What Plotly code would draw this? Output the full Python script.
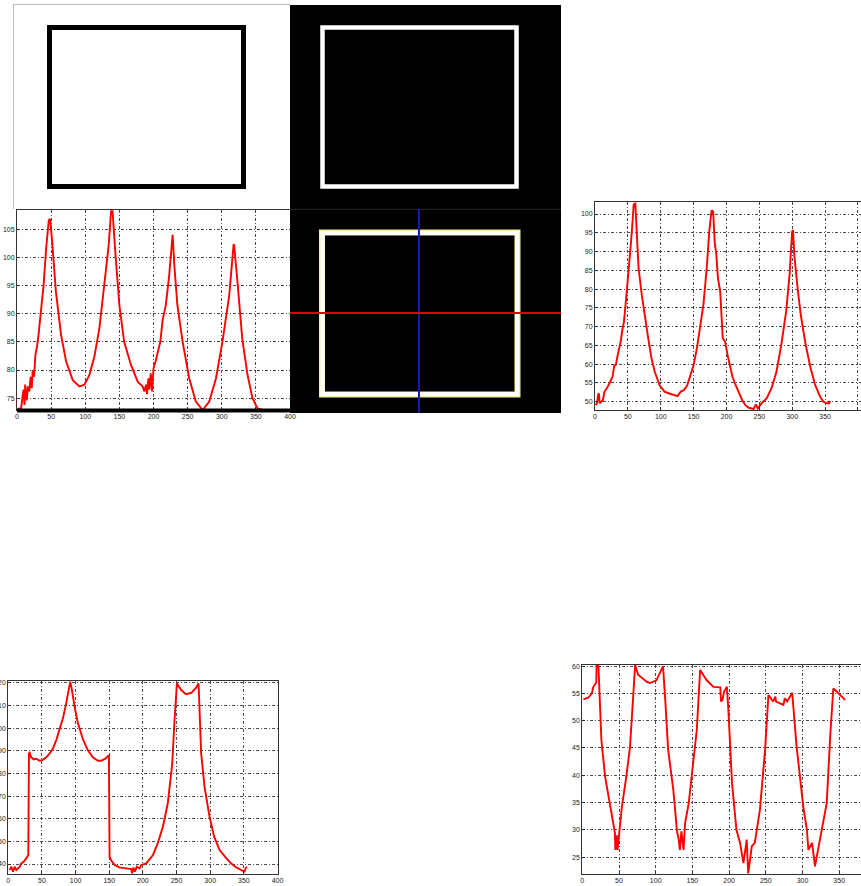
import plotly.graph_objects as go

W, H = 861, 886

# ---------------- data ----------------
sig1_x = [1, 6, 9.5, 11, 12, 14.4, 16, 18, 20, 21.7, 23, 25, 27, 29, 31.5, 35, 39, 42.7, 46.6, 48.5,
          51.5, 57, 64.6, 72, 81.7, 91.5, 98.8, 106, 113.4, 120.7, 128, 134.4, 137.8, 140, 144, 150,
          157, 167, 177, 184, 186.6, 189, 190.5, 192.5, 194, 196, 198, 200, 203, 206, 210, 213.4,
          218, 223, 227, 228, 230.5, 235, 242.7, 252.4, 262, 272, 281.7, 291.5, 301, 311, 317.3,
          318, 323, 330, 337.8, 345, 352.4, 360]
sig1_y = [73.1, 73.2, 76.5, 73.8, 77.4, 74.6, 77.1, 76.2, 78.8, 76.8, 80, 78.8, 82.7, 83.9, 86.2, 90.3,
          95.1, 101.6, 106.6, 106.8, 102.8, 93.9, 86.2, 81.5, 78.2, 77.1, 77.4, 79.1, 82.4, 87.4,
          95.1, 102.2, 108.2, 108.2, 101, 91.5, 85, 80.9, 77.9, 77.1, 76.2, 77.4, 75.7, 78.5, 76.5,
          79.4, 76.2, 80.3, 81.5, 83, 85, 88.9, 91.5, 96.8, 103.6, 104, 98.6, 91.5, 85, 78.5, 74.4,
          72.9, 74.4, 78.5, 85, 93.3, 102.2, 102.3, 95.7, 85.6, 79.1, 75, 73.2, 72.9]

sig2_x = [1, 3, 5, 6, 7, 9.5, 12, 14.5, 19.4, 24.4, 26.8, 29.3, 31.7, 34, 36.7, 39, 41.6, 44, 46.5,
          49, 51.5, 54, 56.4, 58.9, 61.3, 63.8, 66.3, 71.2, 76.2, 81, 86, 90.9, 98.3, 105.7, 113,
          120.5, 125.5, 130.4, 135.4, 140.3, 145.2, 150, 155, 160, 164.9, 169.9, 173.8, 177.3,
          179.7, 182.2, 184.6, 187, 190.5, 194.3, 197.8, 201.7, 205, 209, 214, 219, 223.9, 228.8,
          233.7, 238.6, 241, 244.7, 247.6, 253.5, 261, 268.5, 276, 283.3, 290.7, 295.9, 299.8,
          301.2, 303.2, 308.2, 313, 320.5, 328, 335, 342.5, 347.4, 352.3, 356.3, 357.3]
sig2_y = [49.1, 49.6, 52, 52.2, 49.6, 50, 50.4, 52.7, 54, 55.8, 56.7, 59.6, 59.8, 62, 63.8, 66, 69.1,
          71.3, 75.8, 80.2, 85.5, 90.9, 96.2, 102.6, 102.8, 94.4, 85.5, 78.4, 72.2, 66.9, 61.5, 58,
          54.4, 52.7, 52.2, 51.8, 51.5, 52.7, 53.1, 54.4, 57.1, 59.8, 64.2, 69.5, 75.8, 85.5, 95.3,
          101, 100.6, 92.2, 89.1, 82.9, 79.3, 66.9, 66, 62.4, 59.8, 56.7, 54.4, 52.2, 50.4, 49.1,
          48.4, 48.2, 48, 49.3, 48.2, 49.6, 50.9, 53.6, 58, 65.1, 74, 83.7, 95.3, 95.7, 89, 80.2,
          73.1, 65.1, 58.9, 54.4, 51.3, 50, 49.6, 49.6, 50.2]

sig3_x = [2, 4.5, 7, 9.4, 12, 17, 19.3, 22.8, 26.7, 29.7, 30.7, 31.7, 34, 38, 41.6, 46.5, 50.5, 56.4,
          61.4, 66.3, 71.3, 76, 81.2, 86, 90, 92, 94.6, 98.5, 103.5, 111, 118, 125.7, 133, 138,
          144.6, 149.5, 150.5, 153, 158, 165, 175, 182.7, 184, 186, 188, 191, 195, 197.5, 205, 215,
          222, 229.7, 237, 243.6, 247, 249.5, 250.5, 257, 264, 272, 279, 282.7, 286.6, 291.6, 299,
          306, 314, 324, 331, 338.6, 346, 351, 352.5, 354.5]
sig3_y = [37.4, 38.8, 36.6, 38.8, 37.4, 38.8, 40.3, 41, 42.5, 44, 88.8, 89.1, 87.1, 86.2, 86.5, 85.6,
          85.9, 87.1, 88.8, 91, 94.7, 99.1, 104.3, 110.9, 116.8, 120.5, 116.8, 109.4, 102.1, 95,
          90.3, 87.1, 85.6, 85.6, 86.6, 88.1, 43.2, 41.5, 39.6, 38.5, 38.1, 37.8, 35.9, 38.5, 36.6,
          38.8, 38.1, 39.6, 40.3, 44, 49.1, 56.5, 66.8, 84.4, 103.5, 119.4, 119.7, 116.8, 115, 115.6,
          117.9, 119.7, 88.8, 74.1, 60.9, 52, 46.2, 42.5, 40.3, 38.5, 37.4, 36.6, 38.1, 38.8]

sig4_x = [1.4, 8, 13, 15, 19, 19.5, 22, 24, 26, 31, 38, 44.5, 45, 47, 48, 50, 54, 60, 65, 72, 76, 88,
          92, 101, 110, 113, 117, 124, 129, 131, 133, 135, 138, 140, 145, 149, 156, 160.5, 169.5,
          178.6, 188, 189, 191, 193, 197, 199, 204, 210, 215, 219.5, 224, 226, 231, 235, 242, 249,
          253.6, 260, 263, 264, 274, 276, 279, 286, 292, 301, 306, 308, 313, 317, 322, 326, 333,
          338, 342, 347, 351, 356, 358]
sig4_y = [53.9, 54.2, 55, 56.2, 57, 60.2, 60, 53.8, 46.5, 39.8, 34.3, 29.4, 26.3, 29, 26.3, 29, 34.3,
          39.8, 45.2, 60.2, 58.4, 57.1, 56.9, 57.4, 60, 53.8, 44.6, 37.3, 29.7, 28.5, 26.3, 29.7,
          26.3, 31.2, 34.9, 39.8, 48.3, 59.3, 57.4, 56.2, 56.1, 53.5, 53.8, 55.3, 56.2, 52, 38.5,
          30, 27.6, 23.9, 28.2, 22, 27, 27.6, 33.7, 44.6, 54.7, 53.5, 54.4, 53.5, 52.9, 54.1, 53.5,
          55.1, 45.2, 34.3, 30, 26.3, 27.6, 23.3, 27, 29.4, 34.9, 47.7, 55.9, 55.3, 54.7, 53.9,
          53.8]

x_ticks = [0, 50, 100, 150, 200, 250, 300, 350, 400]


def px(x):
    return x / W


def py(y):
    return 1 - y / H


fig = go.Figure()
series = [(sig1_x, sig1_y), (sig2_x, sig2_y), (sig3_x, sig3_y), (sig4_x, sig4_y)]
for i, (xs, ys) in enumerate(series, start=1):
    fig.add_trace(go.Scatter(x=xs, y=ys, mode="lines", line=dict(color="#ff0000", width=1.9),
                             xaxis="x" if i == 1 else f"x{i}", yaxis="y" if i == 1 else f"y{i}",
                             hoverinfo="skip"))

GRID = "3px,2px,1px,2px"
font = dict(family="Liberation Sans", size=7, color="#222")


def xa(dom, rng, anchor):
    return dict(domain=[px(dom[0]), px(dom[1])], range=rng, anchor=anchor, tickvals=x_ticks,
                automargin=False,
                showgrid=True, gridcolor="#4a4a4a", gridwidth=1, griddash=GRID, zeroline=False,
                showline=True, linecolor="#333", linewidth=1, mirror=True, ticks="inside",
                ticklen=3, tickcolor="#333", tickfont=font, fixedrange=True)


def ya(dom, rng, dt, anchor):
    return dict(domain=[py(dom[1]), py(dom[0])], range=rng, anchor=anchor, dtick=dt, tick0=0,
                automargin=False,
                showgrid=True, gridcolor="#4a4a4a", gridwidth=1, griddash=GRID, zeroline=False,
                showline=True, linecolor="#333", linewidth=1, mirror=True, ticks="inside",
                ticklen=3, tickcolor="#333", tickfont=font, fixedrange=True)


fig.update_layout(
    width=W, height=H, autosize=False, margin=dict(l=0, r=0, t=0, b=0, pad=0), showlegend=False,
    paper_bgcolor="white", plot_bgcolor="white",
    xaxis=xa((17, 290), [0, 400], "y"),
    yaxis=ya((210, 410), [72.9, 108.4], 5, "x"),
    xaxis2=xa((595, 861), [0, 404.6], "y2"),
    yaxis2=ya((202, 410), [47.8, 103.2], 5, "x2"),
    xaxis3=xa((8.3, 277.5), [0, 400], "y3"),
    yaxis3=ya((681, 874), [35.6, 120.8], 10, "x3"),
    xaxis4=xa((582.3, 861), [0, 379.7], "y4"),
    yaxis4=ya((665, 874), [21.9, 60.2], 5, "x4"),
)


def rect(x0, y0, x1, y1, **kw):
    return dict(type="rect", xref="paper", yref="paper", x0=px(x0), x1=px(x1),
                y0=py(y1), y1=py(y0), **kw)


def line(x0, y0, x1, y1, color, width):
    return dict(type="line", xref="paper", yref="paper", x0=px(x0), x1=px(x1),
                y0=py(y0), y1=py(y1), line=dict(color=color, width=width))


shapes = [
    # top-left image panel (white with black frame)
    rect(13, 4, 290, 209, fillcolor="white", line=dict(width=0)),
    line(13, 4.5, 290, 4.5, "#bbbbbb", 1),
    line(13.5, 4, 13.5, 209, "#bbbbbb", 1),
    rect(49.5, 27.5, 243.5, 186.5, line=dict(color="black", width=5)),
    # top-middle image panel (black with white frame)
    rect(290, 5, 561, 209, fillcolor="black", line=dict(width=0)),
    rect(322.5, 27.5, 516.5, 186.5, line=dict(color="white", width=4.5)),
    # bottom-middle image panel
    rect(290, 209, 561, 413, fillcolor="black", line=dict(width=0)),
    line(290, 209.3, 561, 209.3, "#2a2a2a", 1),
    rect(322, 232.5, 517.5, 394.5, line=dict(color="#f2f0a0", width=6)),
    rect(322.5, 233, 517, 394, line=dict(color="white", width=4)),
    line(419, 209, 419, 413, "#1a1aa8", 2),
    line(290, 313, 561, 313, "#dd0000", 2),
    # thick black bottom bar of the first chart
    line(17, 410.5, 290, 410.5, "black", 4),
]
fig.update_layout(shapes=shapes)

fig.write_html(
    "out.html",
    config={"displayModeBar": False, "staticPlot": True},
    post_script="document.body.style.margin='0';document.body.style.overflow='hidden';",
)
